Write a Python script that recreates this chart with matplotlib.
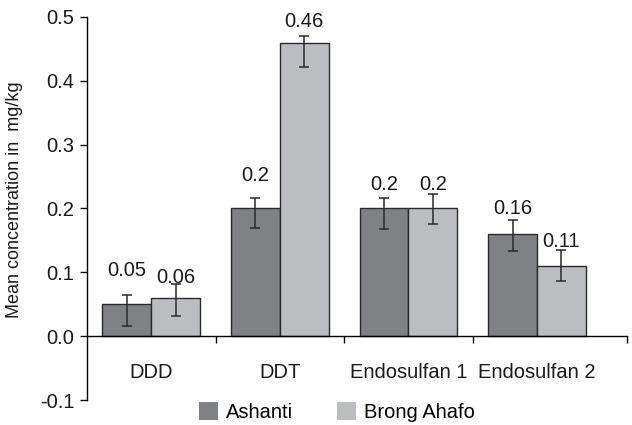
import matplotlib.pyplot as plt
import numpy as np
from matplotlib.patches import Patch
from matplotlib.ticker import FormatStrFormatter

plt.rcParams['font.family'] = ['Liberation Sans', 'DejaVu Sans']

compounds = ["DDD", "DDT", "Endosulfan 1", "Endosulfan 2"]
ashanti = [0.05, 0.2, 0.2, 0.16]
ashanti_err_lo = [0.034, 0.031, 0.032, 0.026]
ashanti_err_hi = [0.014, 0.017, 0.016, 0.022]
brong = [0.06, 0.46, 0.2, 0.11]
brong_err_lo = [0.028, 0.039, 0.025, 0.024]
brong_err_hi = [0.021, 0.010, 0.023, 0.025]

# pixel gaps between bar top and value label (labels were placed by hand in the original)
ashanti_lbl_gap = [28, 27, 18, 20]
brong_lbl_gap = [15, 16, 18, 19]

dark = "#808185"
light = "#bcbdc1"
w = 0.38

fig = plt.figure(figsize=(6.32, 4.25), dpi=100)
ax = fig.add_axes([87 / 632, 1 - 400 / 425, 540 / 632, 383 / 425])

x = np.arange(len(compounds))
ax.bar(x - w / 2, ashanti, w, color=dark, edgecolor="#2a2a2a", linewidth=1,
       yerr=[ashanti_err_lo, ashanti_err_hi], capsize=3.5,
       error_kw=dict(ecolor="#2a2a2a", elinewidth=1.1, capthick=1.1), zorder=2)
ax.bar(x + w / 2, brong, w, color=light, edgecolor="#2a2a2a", linewidth=1,
       yerr=[brong_err_lo, brong_err_hi], capsize=3.5,
       error_kw=dict(ecolor="#2a2a2a", elinewidth=1.1, capthick=1.1), zorder=2)

for xi, v, g in zip(x - w / 2, ashanti, ashanti_lbl_gap):
    ax.annotate(f"{v:g}", (xi, v), xytext=(0, g), textcoords="offset pixels",
                ha="center", va="baseline", fontsize=14.5, color="#1a1a1a")
for xi, v, g in zip(x + w / 2, brong, brong_lbl_gap):
    ax.annotate(f"{v:g}", (xi, v), xytext=(0, g), textcoords="offset pixels",
                ha="center", va="baseline", fontsize=14.5, color="#1a1a1a")

ax.set_ylim(-0.1, 0.5)
ax.set_xlim(-0.5, 3.7)
ax.set_yticks([-0.1, 0.0, 0.1, 0.2, 0.3, 0.4, 0.5])
ax.yaxis.set_major_formatter(FormatStrFormatter("%.1f"))

ax.spines["top"].set_visible(False)
ax.spines["right"].set_visible(False)
ax.spines["bottom"].set_position(("data", 0))
ax.spines["left"].set_linewidth(1)
ax.spines["bottom"].set_linewidth(1)

ax.set_xticks(x)
ax.set_xticklabels(compounds)
ax.set_xticks([0.5, 1.5, 2.5, 3.7], minor=True)
ax.tick_params(axis="x", which="major", length=0, pad=19, labelsize=14.5, colors="#1a1a1a")
ax.tick_params(axis="x", which="minor", length=5, width=1, direction="out")
ax.tick_params(axis="y", length=5, width=1, direction="out", pad=4, labelsize=14.5, labelcolor="#1a1a1a")

ax.set_ylabel("Mean concentration in  mg/kg", fontsize=13, color="#1a1a1a")
ax.yaxis.set_label_coords(-0.118, 0.522)

handles = [Patch(facecolor=dark, edgecolor="none", label="Ashanti"),
           Patch(facecolor=light, edgecolor="none", label="Brong Ahafo")]
fig.legend(handles=handles, loc="center", bbox_to_anchor=(337 / 632, 1 - 412 / 425),
           ncol=2, frameon=False, fontsize=14.5, handlelength=0.95, handleheight=0.95,
           handletextpad=0.4, columnspacing=2.2, borderpad=0)

fig.savefig("out.png", dpi=100)
